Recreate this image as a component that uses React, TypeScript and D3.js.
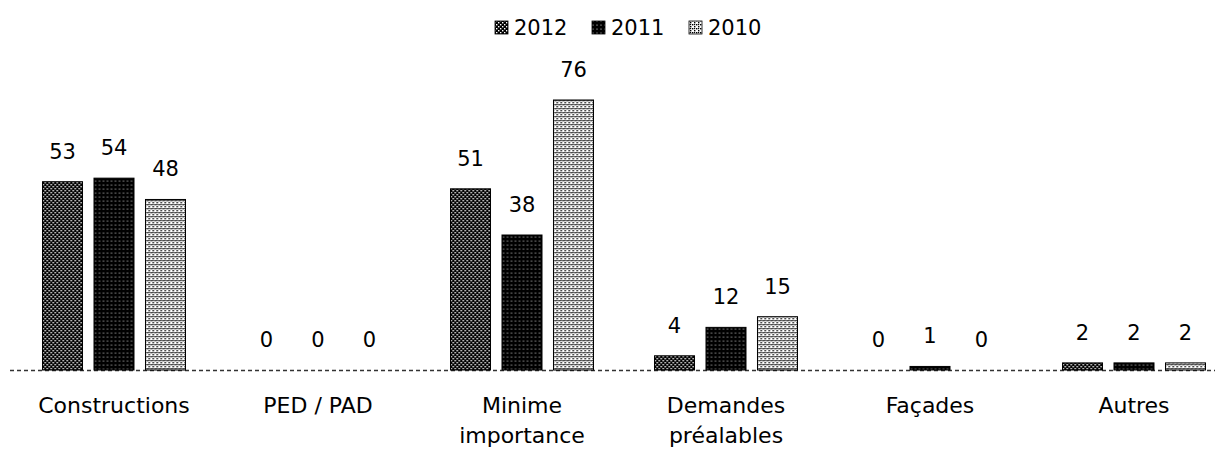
import React from "react";
import * as d3 from "d3";

const categories = ["Constructions", "PED / PAD", "Minime\nimportance", "Demandes\npréalables", "Façades", "Autres"];
const seriesNames = ["2012", "2011", "2010"];
const values2012 = [53, 0, 51, 4, 0, 2];
const values2011 = [54, 0, 38, 12, 1, 2];
const values2010 = [48, 0, 76, 15, 0, 2];
const seriesValues = [values2012, values2011, values2010];
const patternIds = ["p2012", "p2011", "p2010"];

const W = 1223;
const H = 452;
const baseline = 370;
const FONT = "'DejaVu Sans', sans-serif";

export default function App() {
  const x = d3.scaleBand<string>().domain(categories).range([12, 12 + 204 * 6]).paddingInner(0).paddingOuter(0);
  const groupW = 143;
  const xs = d3.scaleBand<string>().domain(seriesNames).range([0, groupW]).paddingInner(0.223).paddingOuter(0);
  const y = d3.scaleLinear().domain([0, 76]).range([baseline, baseline - 270]);

  return (
    <svg width={W} height={H} style={{ position: "absolute", left: 0, top: 0, background: "#fff" }}>
      <defs>
        <pattern id="p2012" width="4" height="4" patternUnits="userSpaceOnUse">
          <rect width="4" height="4" fill="#000" />
          <rect x="0" y="0" width="1.4" height="1.4" fill="#fff" />
          <rect x="2" y="2" width="1.4" height="1.4" fill="#fff" />
        </pattern>
        <pattern id="p2011" width="4" height="4" patternUnits="userSpaceOnUse">
          <rect width="4" height="4" fill="#000" />
          <circle cx="1" cy="1" r="0.6" fill="#fff" />
        </pattern>
        <pattern id="p2010" width="4" height="4" patternUnits="userSpaceOnUse">
          <rect width="4" height="4" fill="#fff" />
          <rect x="0" y="0" width="1.4" height="1.4" fill="#000" />
          <rect x="2" y="2" width="1.4" height="1.4" fill="#000" />
          <rect x="2" y="0" width="1.2" height="1.2" fill="#000" />
        </pattern>
      </defs>

      {/* legend */}
      {seriesNames.map((s, i) => {
        const lx = 495 + i * 97;
        return (
          <g key={s}>
            <rect x={lx} y={21} width={13} height={13} fill={`url(#${patternIds[i]})`} stroke="#000" strokeWidth={0.8} />
            <text x={lx + 19} y={35} fontFamily={FONT} fontSize={21} fill="#000">{s}</text>
          </g>
        );
      })}

      {/* baseline */}
      <line x1={10} x2={1215} y1={baseline + 0.5} y2={baseline + 0.5} stroke="#333" strokeWidth={1.5} strokeDasharray="4 3" />

      {/* bars */}
      {categories.map((c, ci) => (
        <g key={c} transform={`translate(${(x(c) as number) + (x.bandwidth() - groupW) / 2},0)`}>
          {seriesNames.map((s, si) => {
            const v = seriesValues[si][ci];
            const bx = xs(s) as number;
            const top = y(v);
            return (
              <g key={s}>
                {v > 0 && (
                  <rect x={bx} y={top} width={xs.bandwidth()} height={baseline - top} fill={`url(#${patternIds[si]})`} stroke="#000" strokeWidth={1} />
                )}
                <text x={bx + xs.bandwidth() / 2} y={top - 23} textAnchor="middle" fontFamily={FONT} fontSize={21} fill="#000">{v}</text>
              </g>
            );
          })}
        </g>
      ))}

      {/* category labels */}
      {categories.map((c) => {
        const cx = (x(c) as number) + x.bandwidth() / 2;
        const lines = c.split("\n");
        return (
          <text key={c} x={cx} y={413} textAnchor="middle" fontFamily={FONT} fontSize={22} fill="#000">
            {lines.map((l, li) => (
              <tspan key={li} x={cx} dy={li === 0 ? 0 : 30}>{l}</tspan>
            ))}
          </text>
        );
      })}
    </svg>
  );
}
